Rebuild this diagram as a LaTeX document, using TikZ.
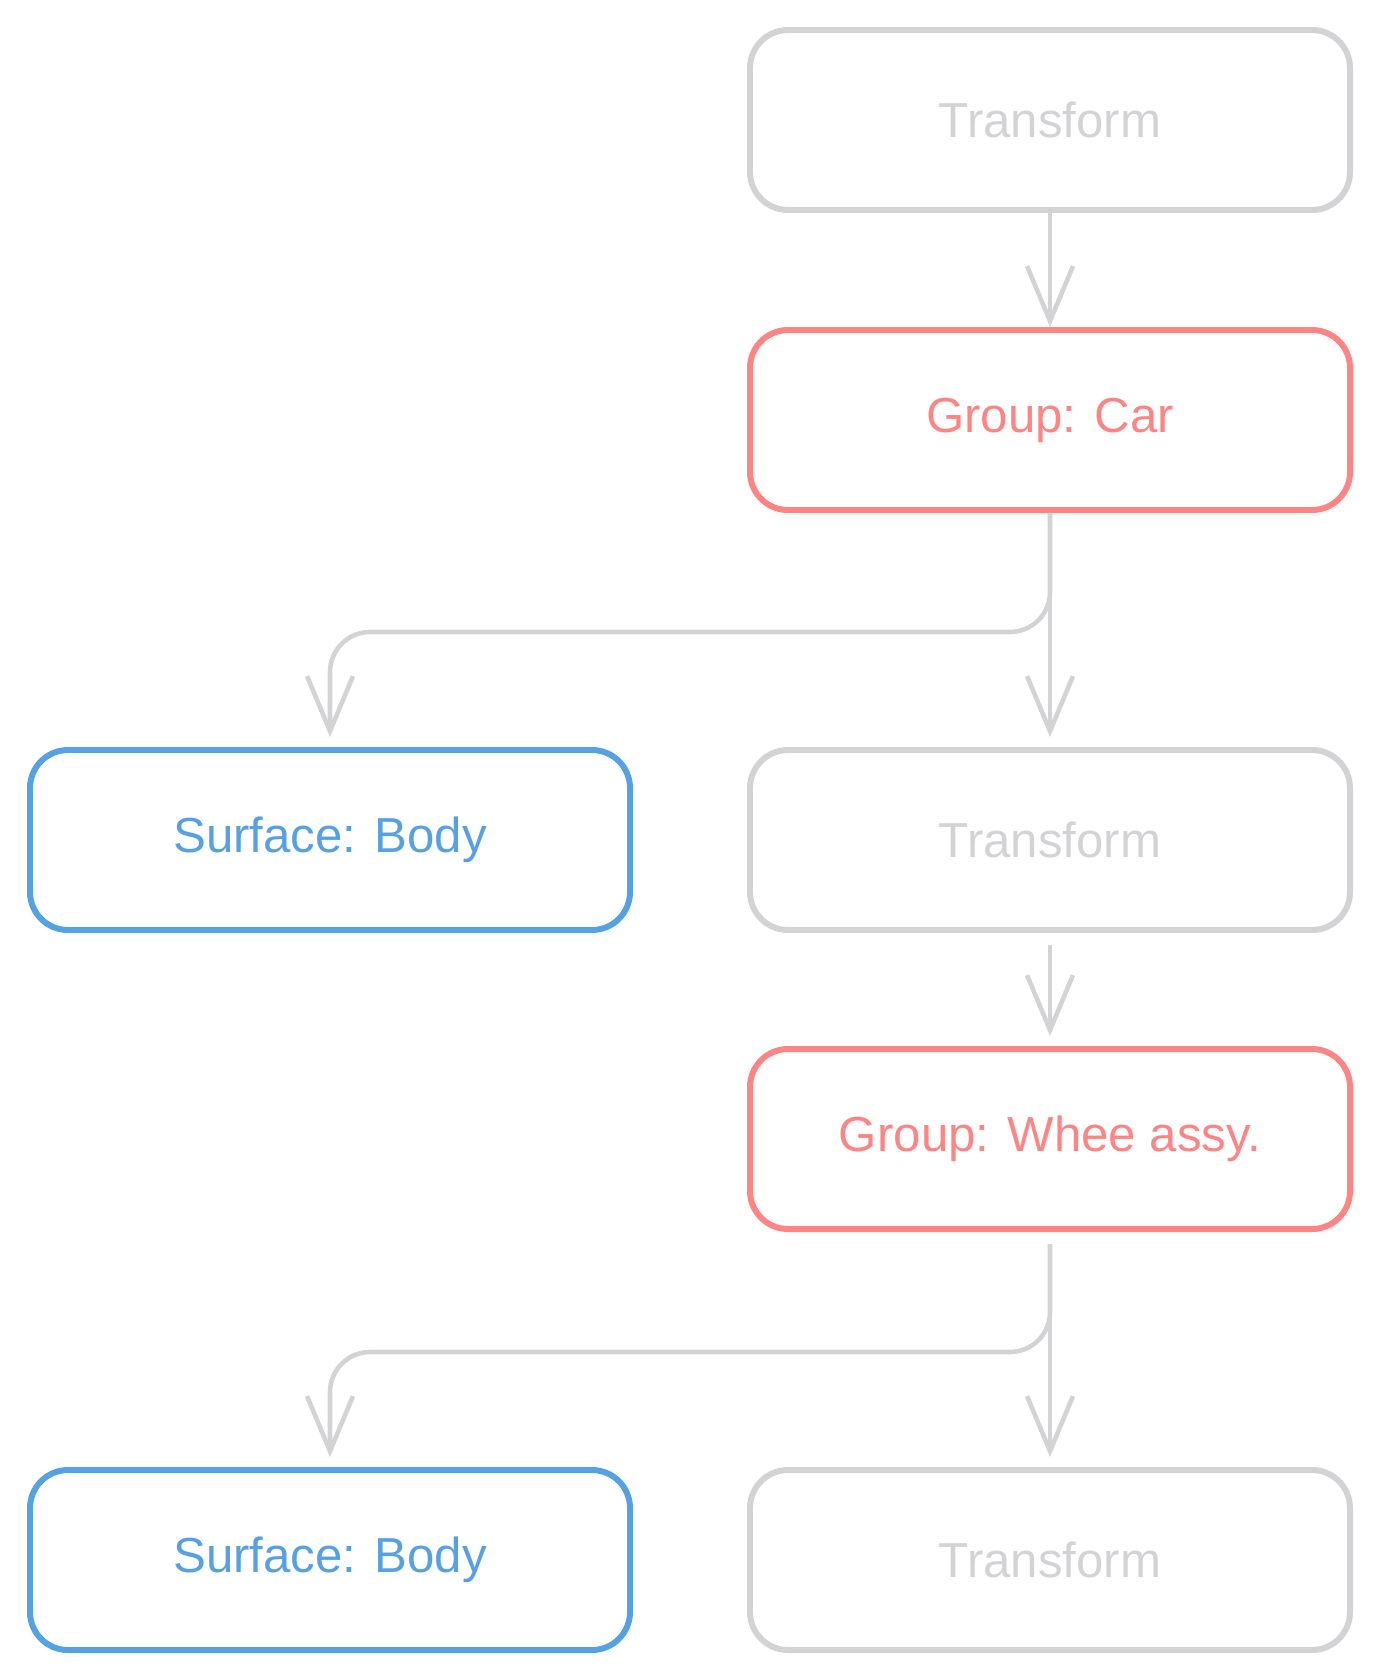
\documentclass[tikz,border=0pt]{standalone}
\usepackage{fontspec}
\setmainfont{Liberation Sans}
\usepackage{xcolor}
\usepackage{tikz}
\usetikzlibrary{arrows.meta}
\definecolor{sketchgrey}{RGB}{211,210,213}
\definecolor{sketchred}{RGB}{255,133,133}
\definecolor{sketchblue}{RGB}{86,161,227}

\begin{document}
\begin{tikzpicture}[
  box/.style={draw, rounded corners=0.38cm, line width=1.7pt, minimum width=6cm, minimum height=1.8cm, font=\fontsize{14}{17}\selectfont},
  greybox/.style={box, color=sketchgrey},
  redbox/.style={box, color=sketchred},
  bluebox/.style={box, color=sketchblue},
  link/.style={line width=1.3pt, color=sketchgrey, rounded corners=0.4cm, -{Straight Barb[length=0.55cm, width=0.46cm, line width=1.3pt]}}
]
\useasboundingbox (0,0) rectangle (13.8,-16.8);
\node[greybox] (tfTop) at (10.5,-1.2) {Transform};
\node[redbox] (grpCar) at (10.5,-4.2) {Group: Car};
\node[bluebox] (surfBody) at (3.3,-8.4) {Surface: Body};
\node[greybox] (tfMid) at (10.5,-8.4) {Transform};
\node[redbox] (grpWheel) at (10.5,-11.39) {Group: Whee assy.};
\node[bluebox] (surfBodyLow) at (3.3,-15.6) {Surface: Body};
\node[greybox] (tfLow) at (10.5,-15.6) {Transform};
% connectors
\draw[link] (tfTop.south) -- (grpCar.north);
\draw[link, shorten >=0.1cm] (grpCar.south) -- (tfMid.north);
\draw[link, shorten >=0.1cm] (grpCar.south) -- ++(0,-1.19) -| (surfBody.north);
\draw[link, shorten <=0.12cm, shorten >=0.1cm] (tfMid.south) -- (grpWheel.north);
\draw[link, shorten <=0.12cm, shorten >=0.1cm] (grpWheel.south) -- (tfLow.north);
\draw[link, shorten <=0.12cm, shorten >=0.1cm] (grpWheel.south) -- ++(0,-1.2) -| (surfBodyLow.north);
\end{tikzpicture}
\end{document}
